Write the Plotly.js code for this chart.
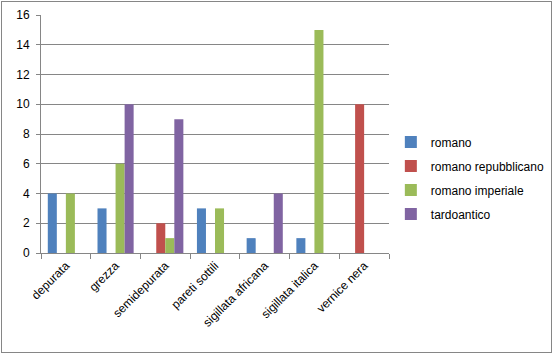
<!DOCTYPE html>
<html><head><meta charset="utf-8">
<script src="https://cdn.plot.ly/plotly-3.0.1.min.js"></script>
<style>
html,body{margin:0;padding:0;background:#fff;}
#wrap{position:relative;width:554px;height:356px;}
#chart{position:absolute;left:0;top:0;width:554px;height:356px;}
#frame{position:absolute;left:1px;top:1px;width:549px;height:350px;border:1px solid #868686;pointer-events:none;}
</style></head>
<body><div id="wrap"><div id="chart"></div><div id="frame"></div></div>
<script>
const categories = ["depurata","grezza","semidepurata","pareti sottili","sigillata africana","sigillata italica","vernice nera"];
const romano = [4,3,null,3,1,1,null];
const romanoRepubblicano = [null,null,2,null,null,null,10];
const romanoImperiale = [4,6,1,3,null,15,null];
const tardoantico = [null,10,9,null,4,null,null];
const seriesNames = ["romano","romano repubblicano","romano imperiale","tardoantico"];
const colors = ["#4F81BD","#C0504D","#9BBB59","#8064A2"];
const yTicks = [0,2,4,6,8,10,12,14,16];

const vals = [romano, romanoRepubblicano, romanoImperiale, tardoantico];
const data = vals.map((v,i)=>({
  type:"bar", x:categories, y:v, name:seriesNames[i],
  marker:{color:colors[i]}, legendgroup:"g"+i
}));
const font = {family:"Liberation Sans, Arial, sans-serif", size:12, color:"#000"};
const layout = {
  width:554, height:356,
  margin:{l:41, r:165, t:15, b:103},
  paper_bgcolor:"#fff", plot_bgcolor:"#fff",
  font:font,
  barmode:"group", bargap:0.273, bargroupgap:0,
  showlegend:true,
  legend:{xref:"container", yref:"container", x:0.7055, y:0.50, yanchor:"middle", xanchor:"left",
          traceorder:"grouped", tracegroupgap:5,
          font:{family:font.family, size:12, color:"#000"}, itemwidth:30, bgcolor:"rgba(0,0,0,0)"},
  xaxis:{type:"category", tickangle:-45, showline:true, linecolor:"#868686", linewidth:1,
         ticks:"outside", ticklen:5, tickcolor:"#868686", tickson:"boundaries",
         showgrid:false, tickfont:{size:12}},
  yaxis:{range:[0,16], tickvals:yTicks, showline:true, linecolor:"#868686", linewidth:1,
         ticks:"outside", ticklen:4, tickcolor:"#868686", showgrid:true, gridcolor:"#868686",
         gridwidth:1, zeroline:false, tickfont:{size:12}, ticklabelstandoff:4}
};
Plotly.newPlot("chart", data, layout, {staticPlot:true});
</script></body></html>
